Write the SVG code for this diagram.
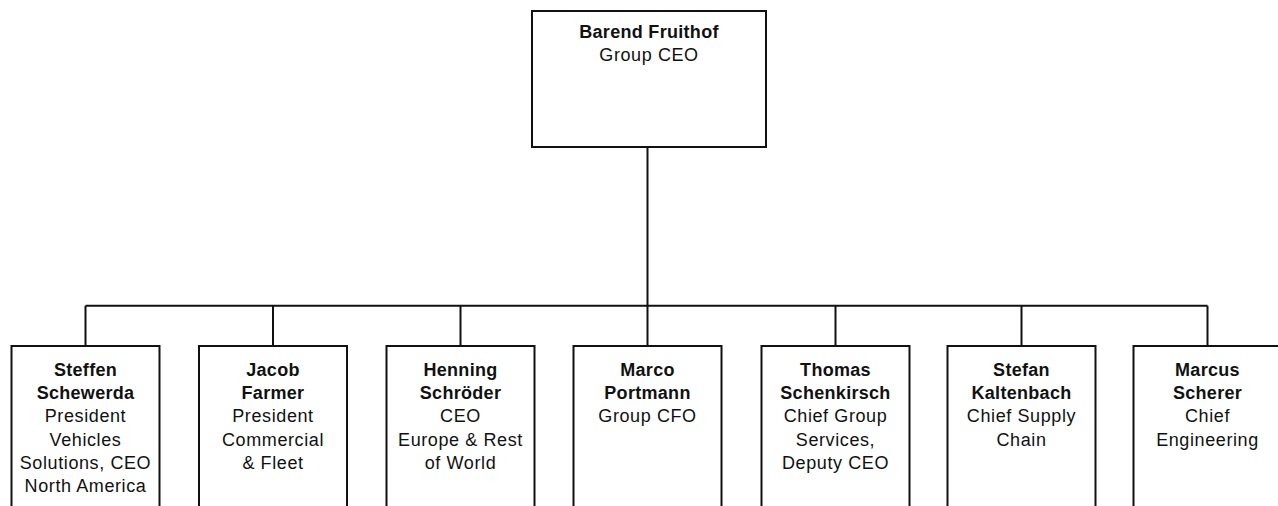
<svg xmlns="http://www.w3.org/2000/svg" width="1278" height="506" viewBox="0 0 1278 506">
<style>
.box{fill:#fff;stroke:#111;stroke-width:2}
.con{fill:none;stroke:#111;stroke-width:2}
text{font-family:"Liberation Sans",Arial,Helvetica,sans-serif;font-size:18px;letter-spacing:0.6px;fill:#111;text-anchor:middle}
.b{font-weight:bold;letter-spacing:0.3px}
</style>
<rect width="1278" height="506" fill="#fff"/>
<g id="connectors">
<path class="con" d="M647.5 147 V305.7 M85.5 305.7 H1207.5 M85.5 305.7 V346 M273 305.7 V346 M460.5 305.7 V346 M647.5 305.7 V346 M835.5 305.7 V346 M1021.5 305.7 V346 M1207.5 305.7 V346"/>
</g>
<g id="ceo">
<rect class="box" x="532" y="11" width="234" height="136"/>
<text x="649" y="37.5" class="b">Barend Fruithof</text>
<text x="649" y="60.7">Group CEO</text>
</g>
<g id="n1">
<rect class="box" x="11.5" y="346" width="148" height="180"/>
<text x="85.5" y="376" class="b">Steffen</text>
<text x="85.5" y="399.2" class="b">Schewerda</text>
<text x="85.5" y="422.4">President</text>
<text x="85.5" y="445.6">Vehicles</text>
<text x="85.5" y="468.8">Solutions, CEO</text>
<text x="85.5" y="492">North America</text>
</g>
<g id="n2">
<rect class="box" x="199" y="346" width="148" height="180"/>
<text x="273" y="376" class="b">Jacob</text>
<text x="273" y="399.2" class="b">Farmer</text>
<text x="273" y="422.4">President</text>
<text x="273" y="445.6">Commercial</text>
<text x="273" y="468.8">&amp; Fleet</text>
</g>
<g id="n3">
<rect class="box" x="386.5" y="346" width="148" height="180"/>
<text x="460.5" y="376" class="b">Henning</text>
<text x="460.5" y="399.2" class="b">Schröder</text>
<text x="460.5" y="422.4">CEO</text>
<text x="460.5" y="445.6">Europe &amp; Rest</text>
<text x="460.5" y="468.8">of World</text>
</g>
<g id="n4">
<rect class="box" x="573.5" y="346" width="148" height="180"/>
<text x="647.5" y="376" class="b">Marco</text>
<text x="647.5" y="399.2" class="b">Portmann</text>
<text x="647.5" y="422.4">Group CFO</text>
</g>
<g id="n5">
<rect class="box" x="761.5" y="346" width="148" height="180"/>
<text x="835.5" y="376" class="b">Thomas</text>
<text x="835.5" y="399.2" class="b">Schenkirsch</text>
<text x="835.5" y="422.4">Chief Group</text>
<text x="835.5" y="445.6">Services,</text>
<text x="835.5" y="468.8">Deputy CEO</text>
</g>
<g id="n6">
<rect class="box" x="947.5" y="346" width="148" height="180"/>
<text x="1021.5" y="376" class="b">Stefan</text>
<text x="1021.5" y="399.2" class="b">Kaltenbach</text>
<text x="1021.5" y="422.4">Chief Supply</text>
<text x="1021.5" y="445.6">Chain</text>
</g>
<g id="n7">
<rect class="box" x="1133.5" y="346" width="148" height="180"/>
<text x="1207.5" y="376" class="b">Marcus</text>
<text x="1207.5" y="399.2" class="b">Scherer</text>
<text x="1207.5" y="422.4">Chief</text>
<text x="1207.5" y="445.6">Engineering</text>
</g>
</svg>
